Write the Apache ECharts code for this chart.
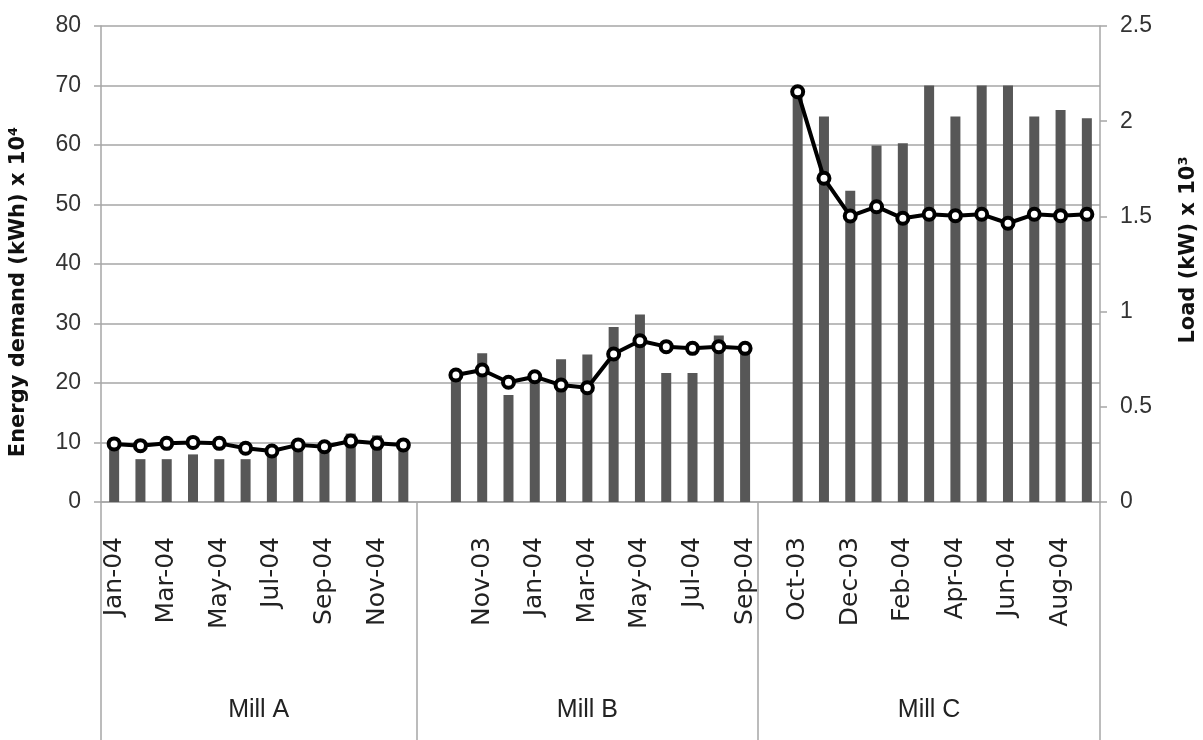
<!DOCTYPE html>
<html>
<head>
<meta charset="utf-8">
<script src="https://cdn.jsdelivr.net/npm/echarts@6/dist/echarts.min.js"></script>
<style>
html,body{margin:0;padding:0;background:#fff;}
#chart{width:1203px;height:740px;}
</style>
</head>
<body>
<div id="chart"></div>
<script>
// ---- data ----
const millNames = ['Mill A', 'Mill B', 'Mill C'];
const millAMonths = ['Jan-04','Feb-04','Mar-04','Apr-04','May-04','Jun-04','Jul-04','Aug-04','Sep-04','Oct-04','Nov-04','Dec-04'];
const millBMonths = ['Oct-03','Nov-03','Dec-03','Jan-04','Feb-04','Mar-04','Apr-04','May-04','Jun-04','Jul-04','Aug-04','Sep-04'];
const millCMonths = ['Oct-03','Nov-03','Dec-03','Jan-04','Feb-04','Mar-04','Apr-04','May-04','Jun-04','Jul-04','Aug-04','Sep-04'];

// Energy demand (kWh) x 10^4  (bars, left axis)
const energyA = [9.5, 7.2, 7.2, 8.0, 7.2, 7.2, 8.0, 9.0, 9.2, 11.5, 11.2, 9.3];
const energyB = [21.0, 25.0, 18.0, 20.5, 24.0, 24.8, 29.4, 31.5, 21.7, 21.7, 28.0, 26.0];
const energyC = [69.5, 64.8, 52.3, 59.9, 60.3, 70.0, 64.8, 70.0, 70.0, 64.8, 65.9, 64.5];

// Load (kW) x 10^3  (line, right axis)
const loadA = [0.305, 0.296, 0.308, 0.313, 0.308, 0.282, 0.268, 0.300, 0.290, 0.320, 0.308, 0.300];
const loadB = [0.667, 0.693, 0.629, 0.658, 0.614, 0.600, 0.777, 0.847, 0.816, 0.807, 0.816, 0.807];
const loadC = [2.155, 1.700, 1.502, 1.551, 1.490, 1.511, 1.504, 1.511, 1.464, 1.511, 1.504, 1.511];

const leftTicks = [0, 10, 20, 30, 40, 50, 60, 70, 80];
const rightTicks = [0, 0.5, 1, 1.5, 2, 2.5];

// ---- build (an empty slot separates mills) ----
const categories = [...millAMonths, '', ...millBMonths, '', ...millCMonths];
const energy = [...energyA, null, ...energyB, null, ...energyC];
const load = [...loadA, null, ...loadB, null, ...loadC];
const nCat = categories.length;
const bStart = millAMonths.length;            // 12
const cStart = bStart + 1 + millBMonths.length; // 25
const groupBounds = [0, bStart, cStart, nCat];
const groupCenters = [bStart / 2, (bStart + cStart) / 2, (cStart + nCat) / 2];

const gridCol = '#a6a6a6';
const narrow = '"Liberation Sans Narrow", "Liberation Sans", sans-serif';
const wide = '"DejaVu Sans", Verdana, sans-serif';

const chart = echarts.init(document.getElementById('chart'), null, {renderer: 'canvas'});
chart.setOption({
  animation: false,
  backgroundColor: '#ffffff',
  grid: {left: 101, right: 103, top: 26, bottom: 238, containLabel: false, outerBoundsMode: 'none'},
  xAxis: [
    {
      type: 'category',
      data: categories,
      boundaryGap: true,
      axisLine: {show: true, lineStyle: {color: gridCol, width: 1.5}},
      axisTick: {show: false},
      axisLabel: {
        interval: 1,
        rotate: 90,
        margin: 35,
        fontFamily: wide,
        fontSize: 25,
        color: '#222'
      },
      splitLine: {show: false}
    },
    {
      type: 'value',
      position: 'bottom',
      min: 0,
      max: nCat,
      axisLine: {show: false},
      axisTick: {
        show: true,
        customValues: groupBounds,
        length: 240,
        lineStyle: {color: gridCol, width: 1.5}
      },
      axisLabel: {
        show: true,
        customValues: groupCenters,
        margin: 196,
        fontFamily: narrow,
        fontSize: 25,
        color: '#222',
        formatter: function (v) {
          const i = groupCenters.indexOf(v);
          return i >= 0 ? millNames[i] : '';
        }
      },
      splitLine: {show: false}
    }
  ],
  yAxis: [
    {
      type: 'value',
      min: leftTicks[0],
      max: leftTicks[leftTicks.length - 1],
      interval: 10,
      name: 'Energy demand (kWh) x 10\u2074',
      nameLocation: 'middle',
      nameGap: 72,
      nameTextStyle: {fontFamily: wide, fontWeight: 'bold', fontSize: 21, color: '#111', padding: [0, 56, 0, 0]},
      axisLine: {show: true, lineStyle: {color: gridCol, width: 1.5}},
      axisTick: {show: true, length: 7, lineStyle: {color: gridCol, width: 1.5}},
      axisLabel: {margin: 20, fontFamily: narrow, fontSize: 23, color: '#333'},
      splitLine: {show: true, lineStyle: {color: gridCol, width: 1.5}}
    },
    {
      type: 'value',
      min: rightTicks[0],
      max: rightTicks[rightTicks.length - 1],
      interval: 0.5,
      position: 'right',
      name: 'Load (kW) x 10\u00b3',
      nameLocation: 'middle',
      nameGap: 78,
      nameRotate: 90,
      nameTextStyle: {fontFamily: wide, fontWeight: 'bold', fontSize: 21, color: '#111', padding: [0, 0, 0, 28]},
      axisLine: {show: true, lineStyle: {color: gridCol, width: 1.5}},
      axisTick: {show: true, length: 7, lineStyle: {color: gridCol, width: 1.5}},
      axisLabel: {margin: 20, fontFamily: narrow, fontSize: 23, color: '#333'},
      splitLine: {show: false}
    }
  ],
  series: [
    {
      name: 'Energy demand',
      type: 'bar',
      xAxisIndex: 0,
      yAxisIndex: 0,
      data: energy,
      barWidth: 10,
      itemStyle: {color: '#575757'},
      z: 2
    },
    {
      name: 'Load',
      type: 'line',
      xAxisIndex: 0,
      yAxisIndex: 1,
      data: load,
      connectNulls: false,
      symbol: 'circle',
      symbolSize: 11,
      showAllSymbol: true,
      lineStyle: {color: '#000', width: 4},
      itemStyle: {color: '#fff', borderColor: '#000', borderWidth: 4},
      z: 3
    }
  ]
});
</script>
</body>
</html>
